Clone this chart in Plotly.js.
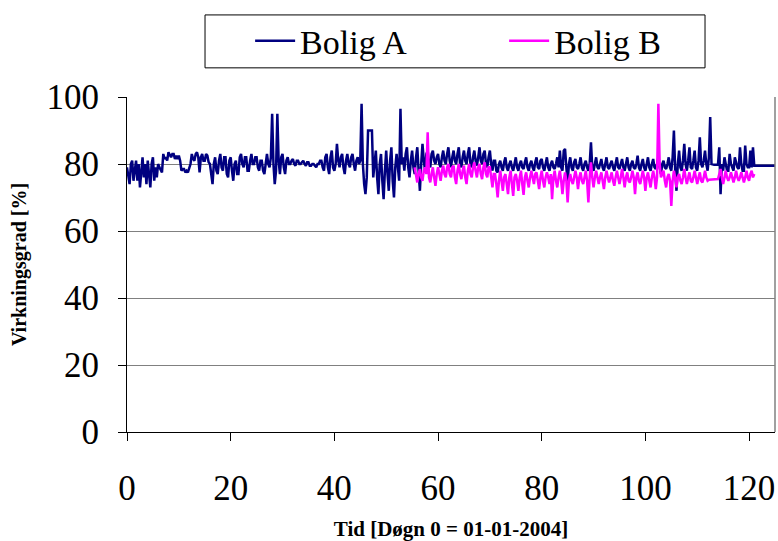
<!DOCTYPE html>
<html>
<head>
<meta charset="utf-8">
<script src="https://cdn.plot.ly/plotly-3.0.1.min.js"></script>
<style>html,body{margin:0;padding:0;background:#fff;}#chart{width:778px;height:541px;}</style>
</head>
<body>
<div id="chart"></div>
<script>
// Sampling of the series (days)
const startA = 0, stepA = 0.25;
const startB = 55.5, stepB = 0.25;

// Bolig A efficiency [%], every quarter day from day 0
const valA = [
  79, 76, 74, 80, 81, 75, 78, 81, 75, 80, 73, 79, 82, 76, 80, 74, 81, 77, 73, 80,
  82, 75, 79, 76, 80, 79, 78, 77.5, 83, 81.5, 82, 81, 83.5, 82.5, 82, 83, 83, 81.5, 82.5, 81.5,
  82.5, 81, 78, 78.5, 78.5, 77.5, 78, 77.5, 78.5, 80, 83, 81.5, 81, 83, 83.5, 82, 77.5, 82, 83, 81,
  81, 83, 82.5, 80.5, 80, 77, 74, 80, 82, 78, 77, 81, 83, 79, 78, 82, 82, 77, 76, 81,
  82, 78, 75, 80, 81, 77, 77, 82, 83, 80, 79, 82, 82, 78, 78, 81, 83, 80, 80, 82,
  82, 79, 78, 81, 81, 78, 77, 80, 83, 80, 79, 82, 95, 80, 74, 78, 95, 81, 77, 82,
  83, 79, 77, 81, 82, 80, 80, 81, 81.5, 80, 79.5, 81, 81, 80, 80, 80.5, 81, 80, 79.5, 80.5,
  80.5, 79.5, 79.5, 80, 80, 79.5, 79, 80, 80, 81, 81, 79, 78, 82, 83, 79, 77, 82, 84, 79,
  78, 80, 86, 81, 79, 82, 83, 79, 77, 81, 83, 80, 79, 82, 83, 80, 78, 81, 82, 80,
  81, 98, 80, 74, 71, 76, 90, 90, 90, 90, 76, 80, 84, 76, 71, 80, 83, 75, 69.5, 78,
  84, 77, 72, 81, 85, 75, 70, 79, 83, 79, 75, 96.5, 80, 82, 78, 83, 85, 79, 76, 81,
  84, 79, 77, 82, 85, 78, 72, 80, 86, 81, 78, 83, 84, 80, 79, 83, 84, 81, 80, 82,
  83, 80, 79, 82, 84, 81, 80, 83, 85, 81, 79, 82, 84, 81, 80, 83, 85, 80, 79, 82,
  84, 81, 80, 83, 85, 80, 79, 82, 84, 81, 79.5, 82, 85, 81, 80, 83, 84, 80, 79, 82,
  84, 80, 78, 81, 81, 78, 77.5, 80, 81, 79, 78, 80.5, 82, 79, 78, 80, 81, 79, 78, 80,
  82, 79, 78, 80, 81, 79, 78.5, 80.5, 82, 79, 78, 80, 81, 79, 78, 80.5, 82, 79, 78.5, 81,
  81.5, 79, 78, 80, 82, 79, 78, 80, 81, 79, 78.5, 80, 82, 79, 84, 79, 78, 84, 84.5, 79,
  74.5, 80, 82, 79, 78, 80.5, 81.5, 79, 78.5, 80, 82, 79, 78, 80, 81, 79, 78, 80, 86.5, 79,
  78, 80, 82, 79, 78.5, 80, 81.5, 79, 78, 80, 82, 79, 78.5, 80, 81, 79, 78, 80, 82, 79,
  78.5, 80, 81.5, 79, 78, 80, 82, 79, 78, 80, 81, 79, 78.5, 80, 82.5, 79, 78, 80, 81.5, 79,
  78, 80, 82, 79, 78, 80, 81.5, 79, 78.5, 80, 82, 79, 77, 80, 81, 79, 78.5, 80, 82, 79,
  78, 82, 90, 78, 72, 80, 84, 79, 78, 81, 86, 80, 78, 81, 85, 79, 78.5, 81, 84, 79,
  78, 81, 88, 80, 79, 81, 84, 80, 78, 82, 94, 80, 79.8, 79.8, 79.8, 79.8, 79.8, 85, 71, 80,
  78, 82, 80, 78, 78, 83, 80, 79, 78, 82, 80, 79, 78.5, 85, 80, 78, 78, 85.5, 80, 79,
  79, 84, 79, 85, 79.5, 79.5, 79.5, 79.5, 79.5, 79.5, 79.5, 79.5, 79.5, 79.5, 79.5, 79.5,
  79.5, 79.5, 79.5, 79.5, 79.5
];

// Bolig B efficiency [%], every quarter day from day 55.5
const valB = [
  79, 77, 74.5, 77, 78.5, 76, 75, 78, 79, 77, 89.5, 76, 74.5, 77, 79, 76, 73.5, 77,
  79, 77, 75, 78, 79.5, 77, 76, 79, 80, 77, 76, 79, 79.5, 76, 74, 78, 80, 77, 75.5, 78,
  79.5, 76, 74, 78, 80, 77, 76, 79, 80.5, 78, 76, 79, 80, 77, 75.5, 79, 80.5, 77, 76, 79,
  79, 76, 73, 77, 77, 74, 70, 75, 78, 75, 72, 76, 77, 74, 71, 76, 78, 74, 70.5, 76,
  77, 75, 72, 76, 78, 74, 70.8, 76, 77.5, 75, 73, 76, 78, 76, 74, 77, 77.5, 75, 72.5, 76,
  78, 75, 73, 76, 77.5, 76, 74, 77, 69.5, 76, 78, 75, 73, 76, 78, 75, 71, 75, 77.5, 75,
  68.5, 75, 77, 75, 74, 76, 78, 76, 72.5, 76, 77.5, 75, 74, 76, 78, 75, 68.5, 76, 80.5, 76,
  73, 76, 78, 76, 74, 76, 77.5, 75, 72.5, 76, 78, 76, 74.5, 76, 77.5, 75, 73.5, 76, 78, 76,
  74, 76, 78.5, 76, 73, 76, 77.5, 75, 74.5, 76, 78, 76, 71, 76, 77.5, 75, 74, 76, 78, 76,
  72, 76, 77.5, 75, 73, 76, 78, 76, 72.5, 76, 98, 80, 76, 77, 78, 75, 73, 76, 77, 75,
  67.5, 75, 78, 76, 73, 76, 77, 75, 74, 76, 78.5, 76, 74, 76, 77.5, 75, 74.5, 76, 78, 76,
  74, 76, 77.5, 75, 74.5, 76, 78, 76, 75, 75.3, 75.3, 75.3, 75.3, 75.3, 75.3, 75.3, 75.5, 77, 78.5, 76,
  74, 76, 78, 76, 75, 76, 77.5, 76, 74.5, 76, 78, 76, 75, 76, 77.5, 76, 74.5, 76, 78, 76,
  75, 77, 78, 76, 77
];

const dayA = valA.map((_, i) => startA + i * stepA);
const dayB = valB.map((_, i) => startB + i * stepB);

const seriesNames = ['Bolig A', 'Bolig B'];
const xTicks = [0, 20, 40, 60, 80, 100, 120];
const yTicks = [0, 20, 40, 60, 80, 100];

const traces = [
  {x: dayA, y: valA, type: 'scatter', mode: 'lines', name: seriesNames[0],
   line: {color: '#000080', width: 2.5}, legend: 'legend'},
  {x: dayB, y: valB, type: 'scatter', mode: 'lines', name: seriesNames[1],
   line: {color: '#FF00FF', width: 2.5}, legend: 'legend2'}
];

const serif = '"Liberation Serif", "Times New Roman", serif';

const layout = {
  width: 778, height: 541,
  margin: {l: 127, r: 3, t: 97, b: 109},
  paper_bgcolor: '#ffffff', plot_bgcolor: '#ffffff',
  font: {family: serif, color: '#000'},
  xaxis: {
    range: [0, 125], tickvals: xTicks, ticktext: xTicks.map(String),
    showgrid: false, zeroline: false, showline: true, linecolor: '#000', linewidth: 1,
    ticks: 'outside', ticklen: 8, tickcolor: '#000', tickwidth: 1,
    tickfont: {family: serif, size: 35, color: '#000'}, ticklabelstandoff: 17,
    title: {text: 'Tid [Døgn 0 = 01-01-2004]', font: {family: serif, size: 21, color: '#000', weight: 'bold'}, standoff: 16}
  },
  yaxis: {
    range: [0, 100], tickvals: yTicks, ticktext: yTicks.map(String),
    showgrid: true, gridcolor: '#808080', gridwidth: 1, zeroline: false,
    showline: true, linecolor: '#000', linewidth: 1,
    ticks: 'outside', ticklen: 8, tickcolor: '#000', tickwidth: 1,
    tickfont: {family: serif, size: 35, color: '#000'}, ticklabelstandoff: 12,
    title: {text: 'Virkningsgrad [%]', font: {family: serif, size: 20, color: '#000', weight: 'bold'}, standoff: 14}
  },
  showlegend: true,
  legend: {x: 0.19, xanchor: 'left', y: 1.167, yanchor: 'middle', orientation: 'h',
    bgcolor: 'rgba(0,0,0,0)', borderwidth: 0, itemwidth: 40,
    font: {family: serif, size: 34, color: '#000'}},
  legend2: {x: 0.582, xanchor: 'left', y: 1.167, yanchor: 'middle', orientation: 'h',
    bgcolor: 'rgba(0,0,0,0)', borderwidth: 0, itemwidth: 40,
    font: {family: serif, size: 34, color: '#000'}},
  shapes: [
    {type: 'rect', xref: 'paper', yref: 'paper', x0: 0.1204, x1: 0.892, y0: 1.087, y1: 1.245,
     line: {color: '#000', width: 1}, fillcolor: 'rgba(0,0,0,0)'},
    {type: 'line', xref: 'paper', yref: 'paper', x0: 1, x1: 1, y0: 0, y1: 1,
     line: {color: '#808080', width: 1.5}}
  ]
};

Plotly.newPlot('chart', traces, layout, {displayModeBar: false, staticPlot: true});
</script>
</body>
</html>
